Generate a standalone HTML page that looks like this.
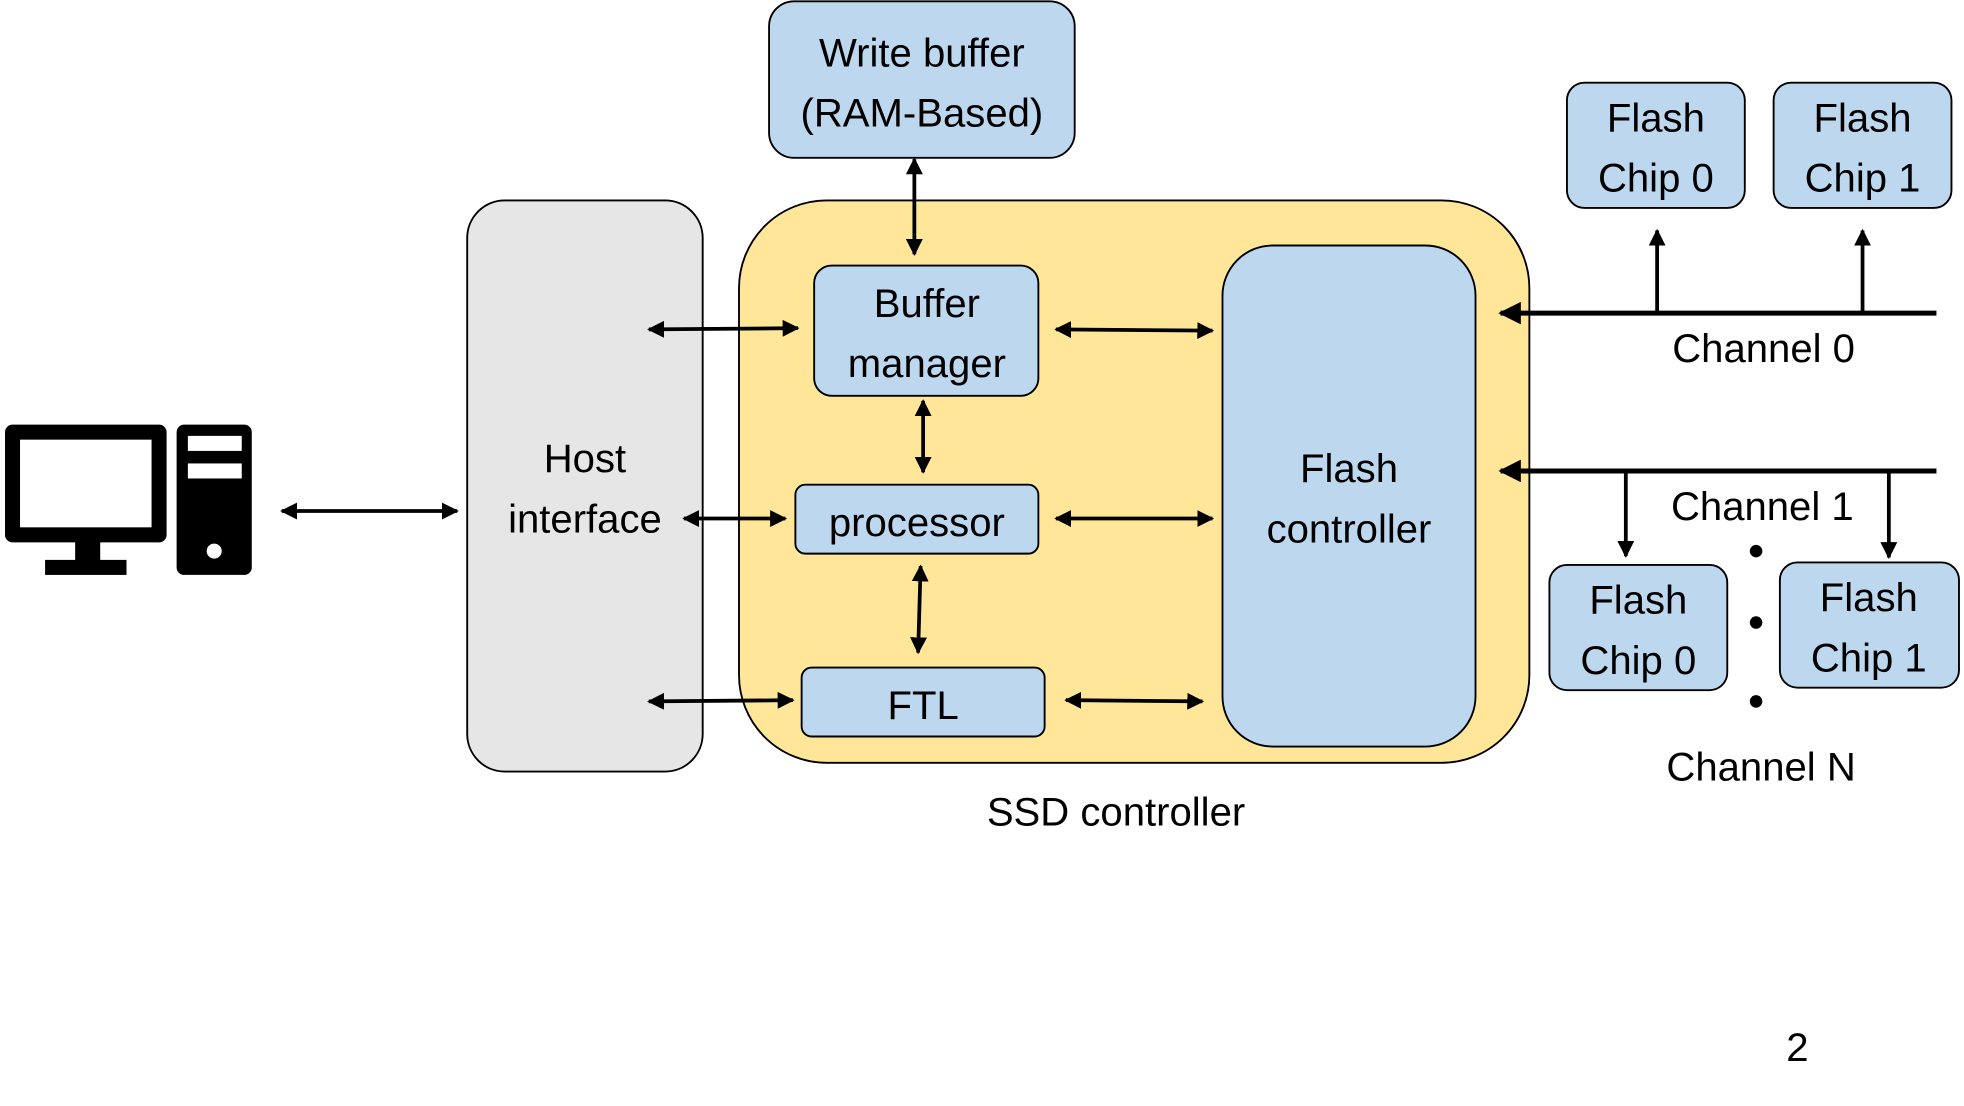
<!DOCTYPE html>
<html><head><meta charset="utf-8"><style>html,body{margin:0;padding:0;background:#fff}svg{display:block}</style></head>
<body>
<svg width="1964" height="1106" viewBox="0 0 1568 883" xmlns="http://www.w3.org/2000/svg" font-family="Liberation Sans, sans-serif" font-size="32" text-anchor="middle">
<defs>
<marker id="a" viewBox="0 0 10 10" refX="9" refY="5" markerWidth="4.5" markerHeight="4.5" orient="auto-start-reverse"><path d="M0,0L10,5L0,10z" fill="#000"/></marker>
</defs>
<g stroke="#000" stroke-width="1.5">
<rect x="614" y="1" width="244" height="125" rx="20" fill="#bdd7ee"/>
<rect x="373" y="160" width="188" height="456" rx="30" fill="#e6e6e6"/>
<rect x="590" y="160" width="631" height="449" rx="70" fill="#ffe699"/>
<rect x="650" y="212" width="179" height="104" rx="14" fill="#bdd7ee"/>
<rect x="635" y="387" width="194" height="55" rx="8" fill="#bdd7ee"/>
<rect x="640" y="533" width="194" height="55" rx="8" fill="#bdd7ee"/>
<rect x="976" y="196" width="202" height="400" rx="40" fill="#bdd7ee"/>
<rect x="1251" y="66" width="142" height="100" rx="14" fill="#bdd7ee"/>
<rect x="1416" y="66" width="142" height="100" rx="14" fill="#bdd7ee"/>
<rect x="1237" y="451" width="142" height="100" rx="14" fill="#bdd7ee"/>
<rect x="1421" y="449" width="143" height="100" rx="14" fill="#bdd7ee"/>
</g>
<g stroke="#000" stroke-width="3" fill="none" marker-start="url(#a)" marker-end="url(#a)">
<line x1="225" y1="408" x2="365" y2="408"/>
<line x1="518" y1="263" x2="637" y2="262"/>
<line x1="546" y1="414" x2="627" y2="414"/>
<line x1="518" y1="560" x2="633" y2="559"/>
<line x1="843" y1="263" x2="968" y2="264"/>
<line x1="843" y1="414" x2="968" y2="414"/>
<line x1="851" y1="559" x2="960" y2="560"/>
<line x1="730" y1="127" x2="730" y2="203"/>
<line x1="737" y1="320" x2="737" y2="377"/>
<line x1="735" y1="452" x2="733" y2="521"/>
</g>
<g stroke="#000" stroke-width="4" fill="none">
<line x1="1546" y1="250" x2="1198" y2="250" marker-end="url(#a)"/>
<line x1="1546" y1="376" x2="1198" y2="376" marker-end="url(#a)"/>
</g>
<g stroke="#000" stroke-width="3" fill="none" marker-end="url(#a)">
<line x1="1323" y1="250" x2="1323" y2="184"/>
<line x1="1487" y1="250" x2="1487" y2="184"/>
<line x1="1298" y1="376" x2="1298" y2="444"/>
<line x1="1508" y1="376" x2="1508" y2="445"/>
</g>
<g fill="#000">
<circle cx="1402" cy="440" r="5"/><circle cx="1402" cy="497" r="5"/><circle cx="1402" cy="560" r="5"/>
<rect x="4" y="339" width="129" height="94" rx="6"/>
<rect x="60" y="430" width="20" height="18"/>
<rect x="36" y="447" width="65" height="12"/>
<rect x="141" y="339" width="60" height="120" rx="6"/>
</g>
<rect x="16" y="351" width="105" height="70" fill="#fff"/>
<rect x="150" y="348" width="43" height="12" fill="#fff"/>
<rect x="150" y="370" width="43" height="12" fill="#fff"/>
<circle cx="171" cy="440" r="6" fill="#fff"/>
<g fill="#000">
<text x="736" y="53">Write buffer</text><text x="736" y="101">(RAM-Based)</text>
<text x="467" y="377">Host</text><text x="467" y="425">interface</text>
<text x="740" y="253">Buffer</text><text x="740" y="301">manager</text>
<text x="732" y="428">processor</text>
<text x="737" y="574">FTL</text>
<text x="1077" y="385">Flash</text><text x="1077" y="433">controller</text>
<text x="1322" y="105">Flash</text><text x="1322" y="153">Chip 0</text>
<text x="1487" y="105">Flash</text><text x="1487" y="153">Chip 1</text>
<text x="1308" y="490">Flash</text><text x="1308" y="538">Chip 0</text>
<text x="1492" y="488">Flash</text><text x="1492" y="536">Chip 1</text>
<text x="1408" y="289">Channel 0</text>
<text x="1407" y="415">Channel 1</text>
<text x="1406" y="623">Channel N</text>
<text x="891" y="659">SSD controller</text>
<text x="1435" y="847">2</text>
</g>
</svg>
</body></html>
